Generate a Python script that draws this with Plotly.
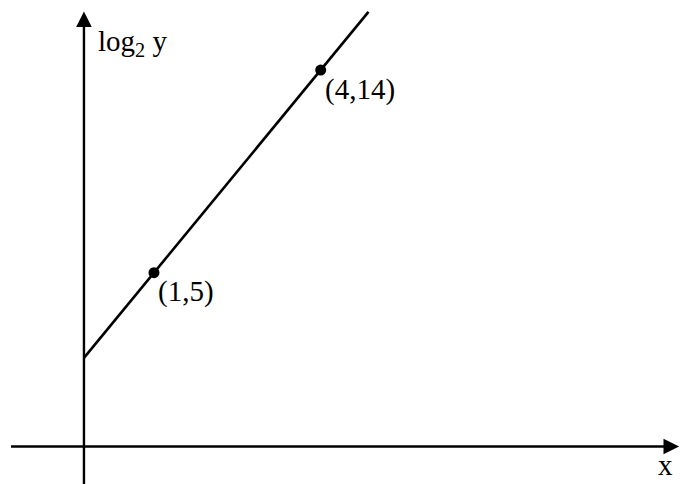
import plotly.graph_objects as go

# Points marked on the line log2(y) = 3x + 2
point_x = [1, 4]
point_y = [5, 14]
point_labels = ["(1,5)", "(4,14)"]

# Drawn line segment (from the vertical axis up past the top point)
line_x = [-0.26, 4.86]
line_y = [1.22, 16.58]

# Where the sketched axes cross (schematic, not at the true origin)
axis_x0 = -0.26
axis_y0 = -2.72

font = dict(family="Liberation Serif, Times New Roman, serif", size=29, color="black")

fig = go.Figure()

fig.add_trace(go.Scatter(
    x=line_x, y=line_y, mode="lines",
    line=dict(color="black", width=2.6),
    hoverinfo="skip",
))

fig.add_trace(go.Scatter(
    x=point_x, y=point_y, mode="markers",
    marker=dict(color="black", size=11),
    hoverinfo="skip",
))

annotations = []

# axes as arrows
annotations.append(dict(
    x=10.45, y=axis_y0, ax=-1.6, ay=axis_y0,
    xref="x", yref="y", axref="x", ayref="y",
    showarrow=True, arrowhead=2, arrowsize=1.3, arrowwidth=2.4, arrowcolor="black", text="",
))
annotations.append(dict(
    x=axis_x0, y=16.6, ax=axis_x0, ay=-4.6,
    xref="x", yref="y", axref="x", ayref="y",
    showarrow=True, arrowhead=2, arrowsize=1.3, arrowwidth=2.4, arrowcolor="black", text="",
))

# point labels
for px, py, lab in zip(point_x, point_y, point_labels):
    annotations.append(dict(
        x=px + 0.04, y=py - 0.85, text=lab, showarrow=False,
        xanchor="left", yanchor="middle", font=font,
    ))

# axis titles
annotations.append(dict(
    x=-0.04, y=15.2, text="log<sub>2</sub> y", showarrow=False,
    xanchor="left", yanchor="middle", font=font,
))
annotations.append(dict(
    x=10.2, y=-4.33, text="x", showarrow=False,
    xanchor="center", yanchor="bottom", font=font,
))

fig.update_layout(
    width=689, height=484,
    margin=dict(l=0, r=0, t=0, b=0),
    paper_bgcolor="white", plot_bgcolor="white",
    showlegend=False,
    annotations=annotations,
    xaxis=dict(range=[-1.771, 10.628], visible=False, fixedrange=True),
    yaxis=dict(range=[-4.383, 17.11], visible=False, fixedrange=True),
)

# drop the browser's default body margin so the figure sits at the window corner
fig.write_html("out.html", config={"displayModeBar": False},
               post_script="document.body.style.margin='0';")
